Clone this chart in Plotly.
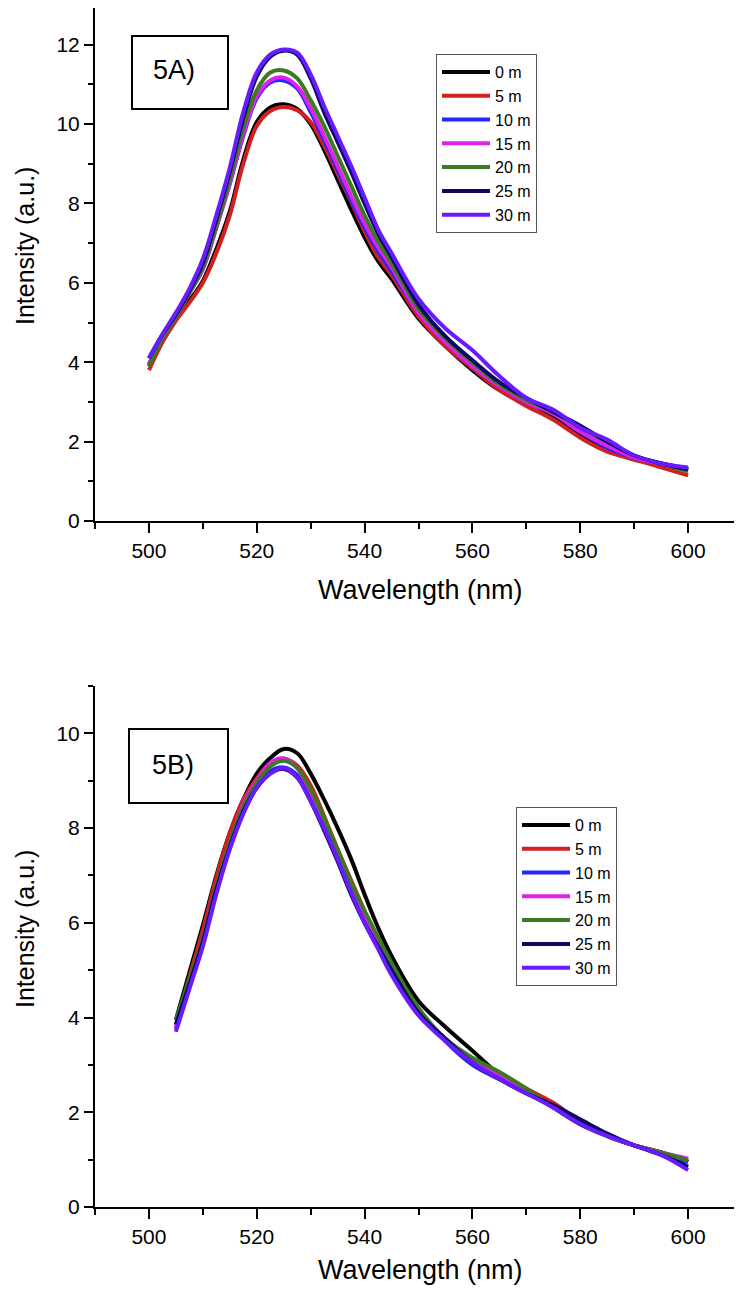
import plotly.graph_objects as go

# ---------------- data ----------------
series_names = ["0 m", "5 m", "10 m", "15 m", "20 m", "25 m", "30 m"]
series_colors = ["#000000", "#d02020", "#2626ff", "#dd22ee", "#3b7a1e", "#0a0a66", "#6a1aff"]

wavelength_a = [500, 502.5, 505, 507.5, 510, 512.5, 515, 517.5, 520, 522.5, 525, 527.5, 530, 532.5, 535,
                537.5, 540, 542.5, 545, 550, 555, 560, 565, 570, 575, 580, 585, 590, 595, 600]

a_0m = [3.9, 4.55, 5.1, 5.55, 6.05, 6.85, 7.8, 9.1, 10.05, 10.42, 10.5, 10.38, 10.0, 9.35, 8.6, 7.85, 7.15,
        6.55, 6.1, 5.1, 4.4, 3.8, 3.3, 3.0, 2.65, 2.2, 1.8, 1.55, 1.45, 1.3]
a_5m = [3.8, 4.5, 5.05, 5.5, 6.0, 6.75, 7.7, 9.0, 9.95, 10.33, 10.43, 10.35, 10.05, 9.45, 8.75, 8.05, 7.3,
        6.65, 6.2, 5.15, 4.4, 3.85, 3.3, 2.9, 2.55, 2.1, 1.75, 1.55, 1.35, 1.15]
a_10m = [3.95, 4.6, 5.15, 5.75, 6.35, 7.4, 8.5, 9.7, 10.65, 11.05, 11.1, 10.9, 10.3, 9.6, 8.85, 8.1, 7.4,
         6.8, 6.3, 5.25, 4.5, 3.9, 3.4, 3.0, 2.7, 2.25, 1.85, 1.6, 1.45, 1.3]
a_15m = [3.95, 4.6, 5.15, 5.75, 6.35, 7.4, 8.5, 9.75, 10.7, 11.1, 11.17, 10.95, 10.4, 9.7, 8.95, 8.2, 7.5,
         6.9, 6.4, 5.25, 4.5, 3.9, 3.4, 3.0, 2.7, 2.25, 1.9, 1.6, 1.45, 1.3]
a_20m = [3.9, 4.6, 5.15, 5.75, 6.4, 7.45, 8.6, 9.9, 10.85, 11.3, 11.35, 11.15, 10.6, 9.95, 9.2, 8.45, 7.7,
         7.05, 6.5, 5.35, 4.6, 4.0, 3.45, 3.05, 2.75, 2.35, 2.0, 1.65, 1.45, 1.25]
a_25m = [4.1, 4.7, 5.2, 5.8, 6.5, 7.6, 8.8, 10.15, 11.2, 11.7, 11.85, 11.75, 11.15, 10.3, 9.55, 8.8, 8.0,
         7.25, 6.65, 5.45, 4.65, 4.05, 3.5, 3.1, 2.75, 2.4, 2.0, 1.65, 1.45, 1.3]
a_30m = [4.1, 4.7, 5.25, 5.85, 6.6, 7.7, 8.9, 10.3, 11.3, 11.75, 11.88, 11.8, 11.25, 10.45, 9.7, 8.95, 8.15,
         7.35, 6.75, 5.6, 4.85, 4.3, 3.65, 3.1, 2.8, 2.35, 2.05, 1.65, 1.45, 1.35]

wavelength_b = [505, 507.5, 510, 512.5, 515, 517.5, 520, 522.5, 525, 527.5, 530, 532.5, 535, 537.5,
                540, 542.5, 545, 550, 555, 560, 565, 570, 575, 580, 585, 590, 595, 600]

b_0m = [3.95, 4.95, 5.95, 7.0, 7.9, 8.6, 9.15, 9.48, 9.67, 9.58, 9.15, 8.6, 8.0, 7.35, 6.6, 5.9, 5.3,
        4.35, 3.8, 3.3, 2.8, 2.45, 2.15, 1.8, 1.5, 1.3, 1.15, 0.95]
b_5m = [3.85, 4.85, 5.85, 6.95, 7.9, 8.6, 9.05, 9.37, 9.47, 9.32, 8.9, 8.25, 7.55, 6.9, 6.25, 5.6, 5.05,
        4.15, 3.55, 3.1, 2.8, 2.5, 2.2, 1.8, 1.5, 1.3, 1.15, 1.0]
b_10m = [3.75, 4.65, 5.6, 6.7, 7.65, 8.4, 8.9, 9.2, 9.28, 9.12, 8.62, 8.0, 7.35, 6.7, 6.1, 5.55, 5.05,
         4.2, 3.5, 3.0, 2.7, 2.45, 2.1, 1.8, 1.5, 1.3, 1.15, 0.95]
b_15m = [3.8, 4.7, 5.6, 6.7, 7.65, 8.5, 9.0, 9.37, 9.47, 9.27, 8.72, 8.1, 7.45, 6.8, 6.15, 5.55, 4.95,
         4.05, 3.55, 3.1, 2.8, 2.45, 2.1, 1.75, 1.5, 1.3, 1.15, 1.02]
b_20m = [3.95, 4.8, 5.65, 6.75, 7.7, 8.45, 8.95, 9.3, 9.42, 9.27, 8.82, 8.2, 7.55, 6.85, 6.25, 5.7, 5.15,
         4.2, 3.55, 3.15, 2.85, 2.5, 2.1, 1.75, 1.5, 1.3, 1.15, 0.98]
b_25m = [3.85, 4.7, 5.6, 6.7, 7.6, 8.35, 8.85, 9.15, 9.25, 9.07, 8.57, 7.95, 7.3, 6.6, 6.0, 5.5, 5.0,
         4.1, 3.55, 3.05, 2.7, 2.4, 2.15, 1.85, 1.55, 1.3, 1.1, 0.85]
b_30m = [3.7, 4.6, 5.5, 6.6, 7.55, 8.3, 8.85, 9.15, 9.27, 9.07, 8.57, 8.0, 7.35, 6.65, 6.0, 5.45, 4.9,
         4.05, 3.5, 3.05, 2.7, 2.4, 2.1, 1.75, 1.5, 1.3, 1.1, 0.78]

panel_a = [a_0m, a_5m, a_10m, a_15m, a_20m, a_25m, a_30m]
panel_b = [b_0m, b_5m, b_10m, b_15m, b_20m, b_25m, b_30m]

x_ticks = [500, 520, 540, 560, 580, 600]
y_ticks_a = [0, 2, 4, 6, 8, 10, 12]
y_ticks_b = [0, 2, 4, 6, 8, 10]

# ---------------- figure ----------------
PAGE_W, PAGE_H = 742, 1289
OFF = 8  # default body margin of the html page
W, H = PAGE_W - OFF, PAGE_H - OFF
FONT = "Liberation Sans, Arial, sans-serif"

def px_x(p):
    return min(1.0, max(0.0, (p - OFF) / W))

def px_y(p):
    return min(1.0, max(0.0, 1 - (p - OFF) / H))

fig = go.Figure()

line_shape = dict(width=4, shape="spline", smoothing=1.0)

for name, color, ys in zip(series_names, series_colors, panel_a):
    fig.add_trace(go.Scatter(x=wavelength_a, y=ys, mode="lines", name=name,
                             line=dict(color=color, **line_shape),
                             xaxis="x", yaxis="y", legend="legend"))

for name, color, ys in zip(series_names, series_colors, panel_b):
    fig.add_trace(go.Scatter(x=wavelength_b, y=ys, mode="lines", name=name,
                             line=dict(color=color, **line_shape),
                             xaxis="x2", yaxis="y2", legend="legend2"))

axis_common = dict(showline=True, linecolor="black", linewidth=2, showgrid=False, zeroline=False,
                   ticks="outside", tickwidth=2, tickcolor="black", automargin=False,
                   tickfont=dict(family=FONT, size=21, color="black"))

xdom = [px_x(95), 1.0]
minor_x = dict(dtick=10, tick0=490, ticks="outside", ticklen=6, tickwidth=2, tickcolor="black")
minor_y = dict(dtick=1, tick0=0, ticks="outside", ticklen=5, tickwidth=2, tickcolor="black")
legend_common = dict(xanchor="left", yanchor="top", bordercolor="#555555", borderwidth=1,
                     bgcolor="white", font=dict(family=FONT, size=16, color="black"),
                     itemwidth=48, tracegroupgap=0)

# top panel: axis spans page px 5..521 for 0..13; page starts at px 8, so clip the top
top_range_max = 13 * (521 - OFF) / (521 - 5)

fig.update_layout(
    width=W, height=H,
    margin=dict(l=0, r=0, t=0, b=0),
    paper_bgcolor="white", plot_bgcolor="white",
    template="simple_white",
    xaxis=dict(domain=xdom, anchor="y", range=[490, 610], tickvals=x_ticks, ticklen=10,
               minor=minor_x, **axis_common),
    yaxis=dict(domain=[px_y(521), 1.0], anchor="x", range=[0, top_range_max], tickvals=y_ticks_a,
               ticklen=9, minor=minor_y, **axis_common),
    xaxis2=dict(domain=xdom, anchor="y2", range=[490, 610], tickvals=x_ticks, ticklen=10,
                minor=minor_x, **axis_common),
    yaxis2=dict(domain=[px_y(1207), px_y(686)], anchor="x2", range=[0, 11], tickvals=y_ticks_b, ticklen=9,
                minor=minor_y, **axis_common),
    legend=dict(x=px_x(436), y=px_y(54), **legend_common),
    legend2=dict(x=px_x(516), y=px_y(807), **legend_common),
    showlegend=True,
)

# label boxes
for (x0, x1, y0, y1) in [(132, 228, 109, 36), (129, 228, 803, 729)]:
    fig.add_shape(type="rect", xref="paper", yref="paper",
                  x0=px_x(x0), x1=px_x(x1), y0=px_y(y0), y1=px_y(y1),
                  line=dict(color="black", width=2), fillcolor="rgba(0,0,0,0)",
                  opacity=1, layer="above")

annots = [
    dict(text="5A)", x=px_x(174), y=px_y(70), size=27, angle=0),
    dict(text="5B)", x=px_x(173), y=px_y(765), size=27, angle=0),
    dict(text="Wavelength (nm)", x=px_x(420), y=px_y(590), size=27, angle=0),
    dict(text="Wavelength (nm)", x=px_x(420), y=px_y(1270), size=27, angle=0),
    dict(text="Intensity (a.u.)", x=px_x(25), y=px_y(246), size=25, angle=-90),
    dict(text="Intensity (a.u.)", x=px_x(25), y=px_y(929), size=25, angle=-90),
]
for a in annots:
    fig.add_annotation(text=a["text"], x=a["x"], y=a["y"], xref="paper", yref="paper",
                       xanchor="center", yanchor="middle", showarrow=False,
                       textangle=a["angle"], font=dict(family=FONT, size=a["size"], color="black"))

fig.write_html("out.html")
